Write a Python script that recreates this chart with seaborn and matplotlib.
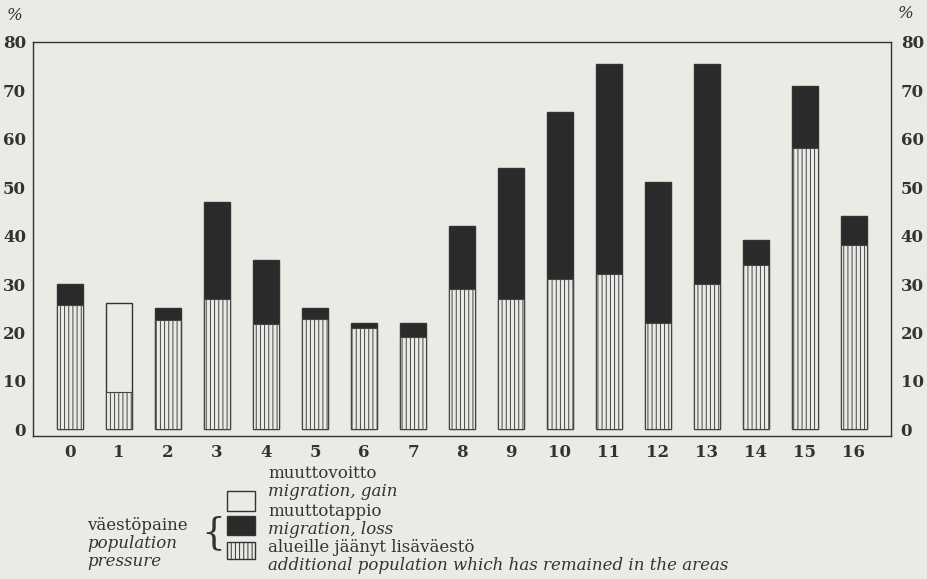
import matplotlib
matplotlib.use("Agg")
import matplotlib.pyplot as plt
import seaborn as sns
import pandas as pd
from matplotlib.patches import Rectangle

# ---- data ----
categories = [str(i) for i in range(17)]
total_pressure = [30, 26, 25, 47, 35, 25, 22, 22, 42, 54, 65.5, 75.5, 51, 75.5, 39, 71, 44]
remained = [25.7, 7.6, 22.6, 27, 21.8, 22.8, 21, 19, 29, 27, 31, 32, 22, 30, 34, 58, 38]
migration_kind = ["loss", "gain"] + ["loss"] * 15
y_ticks = [0, 10, 20, 30, 40, 50, 60, 70, 80]

legend_labels = [
    ("muuttovoitto", "migration, gain"),
    ("muuttotappio", "migration, loss"),
    ("alueille jäänyt lisäväestö", "additional population which has remained in the areas"),
]
group_label = ("väestöpaine", "population", "pressure")

df = pd.DataFrame({"cat": categories, "total": total_pressure,
                   "remained": remained, "kind": migration_kind})

BG = "#ebeae5"
DARK = "#2a2a2a"
INK = "#333333"
FONT = "DejaVu Serif"

sns.set_theme(style="white")
plt.rcParams["font.family"] = [FONT]
plt.rcParams["hatch.linewidth"] = 0.7
plt.rcParams["hatch.color"] = "#444444"

W, H = 927, 579
fig = plt.figure(figsize=(W / 100, H / 100), dpi=100, facecolor=BG)

def fx(px):
    return px / W

def fy(py):
    return 1 - py / H

ax_l, ax_r, ax_t, ax_b = 33, 891, 42, 436
ax = fig.add_axes([fx(ax_l), fy(ax_b), fx(ax_r - ax_l), (ax_b - ax_t) / H])
ax.set_facecolor(BG)

# upper segments (whole bar height), drawn first
sns.barplot(data=df, x="cat", y="total", hue="kind",
            palette={"loss": DARK, "gain": BG}, dodge=False, width=0.52,
            edgecolor=INK, linewidth=1.0, legend=False, ax=ax)
# lower hatched segments drawn on top
sns.barplot(data=df, x="cat", y="remained", color=BG, width=0.52,
            hatch="||||", edgecolor="#444444", linewidth=0.8, ax=ax)
for p in ax.patches:
    p.set_alpha(None)

ax.set_xlim(-0.76, 16.76)
ax.set_ylim(-1.4, 79.6)
ax.set_yticks(y_ticks)
ax.set_xlabel("")
ax.set_ylabel("")
ax.tick_params(axis="both", length=0, colors=INK)
ax.tick_params(axis="y", pad=5, labelsize=12)
ax.tick_params(axis="x", pad=6, labelsize=12)
for lab in ax.get_xticklabels() + ax.get_yticklabels():
    lab.set_fontweight("bold")
    lab.set_color(INK)
for s in ax.spines.values():
    s.set_visible(True)
    s.set_color(INK)
    s.set_linewidth(1.0)

ax2 = ax.twinx()
ax2.set_ylim(ax.get_ylim())
ax2.set_yticks(y_ticks)
ax2.tick_params(axis="y", length=0, pad=7, labelsize=12, colors=INK)
for lab in ax2.get_yticklabels():
    lab.set_fontweight("bold")
for s in ax2.spines.values():
    s.set_visible(False)

fig.text(fx(15), fy(15), "%", ha="center", va="center", fontsize=12,
         style="italic", color=INK)
fig.text(fx(906), fy(14), "%", ha="center", va="center", fontsize=12,
         style="italic", color=INK)

# ---- legend ----
box_x, box_w = 227, 28
boxes = [(491, 20, BG, None), (516, 19, DARK, None), (542, 17, BG, "||||")]
for (top, h, fc, hatch) in boxes:
    r = Rectangle((fx(box_x), fy(top + h)), fx(box_w), h / H, transform=fig.transFigure,
                  facecolor=fc, edgecolor=INK, linewidth=1.0, hatch=hatch)
    fig.add_artist(r)

LFS = 12
text_x = 268
ys = [(473, 491), (512, 530), (548, 566)]
for (fi, en), (y1, y2) in zip(legend_labels, ys):
    fig.text(fx(text_x), fy(y1), fi, ha="left", va="center", fontsize=LFS, color=INK)
    fig.text(fx(text_x), fy(y2), en, ha="left", va="center", fontsize=LFS,
             style="italic", color=INK)

fig.text(fx(87), fy(525), group_label[0], ha="left", va="center", fontsize=LFS, color=INK)
fig.text(fx(87), fy(543), group_label[1], ha="left", va="center", fontsize=LFS,
         style="italic", color=INK)
fig.text(fx(87), fy(561), group_label[2], ha="left", va="center", fontsize=LFS,
         style="italic", color=INK)
fig.text(fx(213), fy(533), "{", ha="center", va="center", fontsize=27, color=INK,
         fontweight="light")

fig.savefig("out.png", dpi=100, facecolor=BG)
